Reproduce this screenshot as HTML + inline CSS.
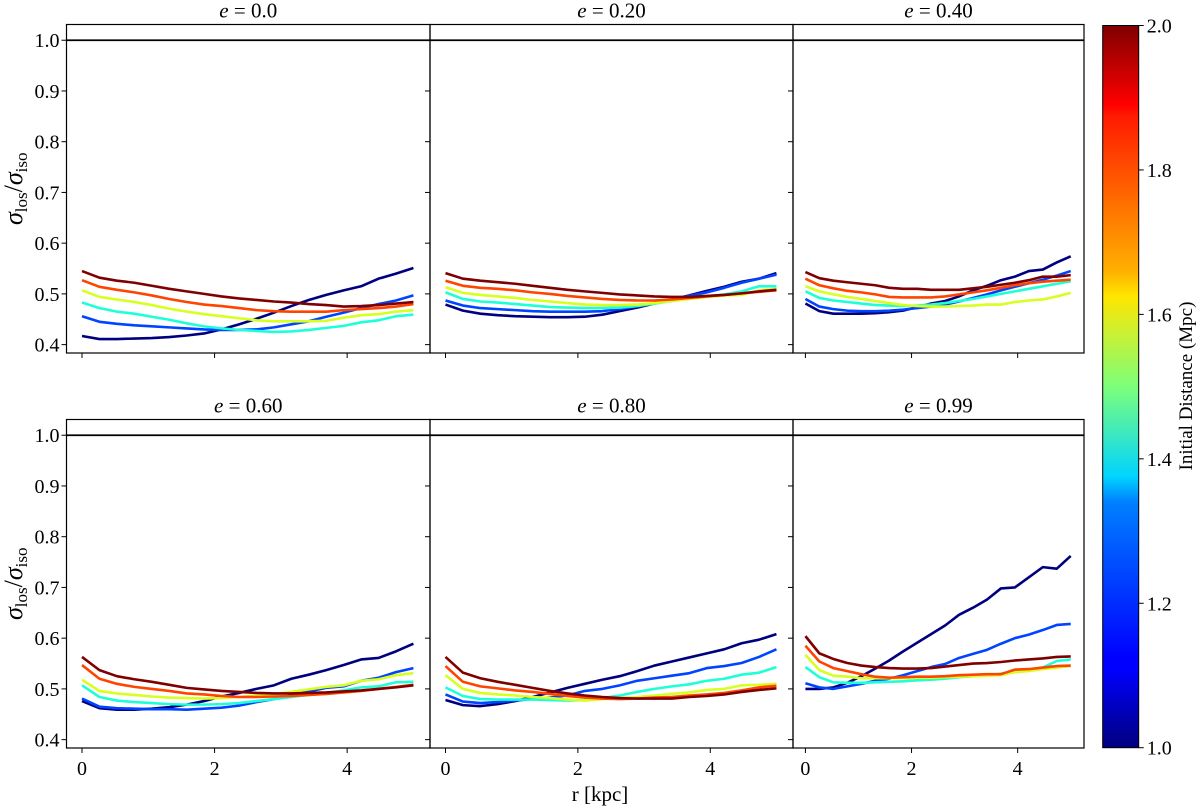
<!DOCTYPE html>
<html><head><meta charset="utf-8"><style>
html,body{margin:0;padding:0;background:#fff;}
svg{display:block;font-family:"Liberation Serif","DejaVu Serif",serif;}
</style></head><body>
<svg id="chart" width="1200" height="807" viewBox="0 0 1200 807" xmlns="http://www.w3.org/2000/svg">
<defs>
<linearGradient id="jet" x1="0" y1="1" x2="0" y2="0">
<stop offset="0" stop-color="#00007f"/><stop offset="0.11" stop-color="#0000ff"/><stop offset="0.125" stop-color="#0000ff"/>
<stop offset="0.34" stop-color="#0080ff"/><stop offset="0.375" stop-color="#00d4ff"/><stop offset="0.5" stop-color="#7dff7a"/>
<stop offset="0.625" stop-color="#ffe600"/><stop offset="0.66" stop-color="#ffb000"/><stop offset="0.875" stop-color="#ff1a00"/><stop offset="0.89" stop-color="#ff0000"/><stop offset="1" stop-color="#7f0000"/>
</linearGradient>
</defs>
</svg>
<script>
const titles = ["0.0","0.20","0.40","0.60","0.80","0.99"];
const seriesColors = ["#00007f","#0044ff","#1fffd7","#d7ff1f","#ff4400","#7f0000"];
const xTicks = [0,2,4];
const yTicks = [0.4,0.5,0.6,0.7,0.8,0.9,1.0];
const cbTicks = [1.0,1.2,1.4,1.6,1.8,2.0];
const N = 20;
const p0 = [
[.417,.411,.411,.412,.413,.415,.418,.422,.430,.440,.451,.463,.476,.488,.498,.507,.515,.530,.540,.551],
[.456,.445,.441,.438,.436,.434,.432,.430,.429,.429,.430,.434,.440,.446,.455,.463,.472,.480,.487,.497],
[.483,.472,.465,.461,.455,.449,.442,.436,.432,.429,.427,.425,.426,.429,.433,.437,.444,.448,.456,.459],
[.507,.494,.489,.484,.478,.471,.465,.460,.456,.452,.448,.446,.446,.446,.447,.453,.458,.460,.465,.468],
[.527,.514,.508,.503,.497,.490,.484,.479,.476,.472,.468,.466,.465,.465,.465,.468,.470,.472,.475,.480],
[.545,.532,.526,.522,.516,.510,.505,.500,.495,.491,.488,.485,.483,.480,.478,.475,.476,.478,.481,.484]];
const p1 = [
[.479,.467,.461,.458,.456,.455,.454,.454,.455,.459,.466,.473,.481,.489,.497,.506,.514,.524,.530,.541],
[.487,.477,.472,.470,.468,.466,.465,.465,.465,.466,.470,.476,.482,.489,.496,.503,.512,.522,.530,.538],
[.503,.490,.485,.483,.480,.477,.474,.473,.472,.472,.473,.476,.481,.486,.491,.495,.499,.505,.515,.515],
[.513,.502,.498,.495,.492,.488,.485,.482,.479,.478,.478,.479,.482,.486,.490,.494,.497,.498,.507,.510],
[.526,.516,.512,.510,.507,.503,.500,.496,.493,.490,.488,.487,.487,.489,.492,.495,.498,.501,.504,.507],
[.541,.530,.526,.523,.520,.516,.512,.508,.505,.502,.499,.497,.495,.494,.494,.496,.498,.501,.505,.508]];
const p2 = [
[.481,.466,.461,.461,.461,.462,.464,.467,.474,.481,.486,.495,.507,.516,.527,.534,.545,.548,.562,.574],
[.490,.475,.470,.467,.466,.466,.467,.469,.472,.475,.479,.485,.492,.499,.507,.514,.521,.528,.536,.545],
[.505,.492,.487,.484,.481,.478,.477,.476,.477,.479,.482,.486,.490,.495,.500,.505,.510,.515,.520,.525],
[.515,.505,.499,.494,.490,.486,.482,.478,.476,.475,.475,.476,.477,.479,.479,.484,.487,.489,.495,.502],
[.530,.517,.511,.506,.503,.499,.494,.493,.493,.493,.495,.499,.503,.507,.512,.517,.521,.524,.526,.528],
[.543,.531,.526,.523,.520,.517,.512,.510,.510,.508,.508,.508,.511,.514,.518,.522,.527,.534,.534,.537]];
const p3 = [
[.476,.462,.459,.459,.461,.464,.469,.476,.485,.492,.500,.507,.520,.528,.537,.547,.558,.561,.574,.589],
[.481,.465,.462,.461,.460,.460,.459,.461,.463,.467,.474,.480,.487,.495,.502,.505,.516,.522,.533,.541],
[.507,.484,.477,.474,.472,.470,.469,.469,.470,.472,.476,.480,.484,.488,.492,.497,.503,.505,.513,.514],
[.518,.496,.491,.488,.485,.483,.482,.481,.482,.484,.487,.490,.494,.499,.504,.507,.516,.519,.527,.531],
[.547,.520,.510,.504,.500,.496,.491,.489,.486,.484,.484,.485,.486,.488,.490,.493,.496,.500,.504,.508],
[.563,.537,.525,.519,.514,.508,.502,.499,.496,.494,.492,.491,.491,.492,.493,.495,.497,.500,.503,.507]];
const p4 = [
[.478,.468,.466,.470,.476,.484,.493,.502,.510,.518,.525,.535,.546,.554,.562,.570,.578,.590,.597,.608],
[.489,.475,.472,.474,.477,.480,.483,.487,.496,.500,.507,.516,.521,.526,.531,.541,.545,.551,.563,.578],
[.503,.486,.480,.479,.479,.479,.478,.477,.478,.482,.487,.494,.500,.505,.509,.516,.520,.528,.532,.543],
[.527,.500,.492,.489,.487,.484,.482,.479,.477,.480,.482,.484,.487,.490,.493,.498,.500,.507,.508,.510],
[.545,.514,.505,.501,.497,.494,.490,.486,.483,.481,.480,.481,.483,.484,.487,.489,.492,.497,.503,.506],
[.563,.532,.521,.514,.508,.502,.496,.491,.487,.484,.482,.481,.481,.481,.484,.486,.489,.494,.498,.501]];
const p5 = [
[.500,.500,.503,.512,.525,.540,.556,.574,.591,.608,.625,.646,.660,.676,.698,.700,.720,.740,.737,.762],
[.511,.503,.500,.505,.510,.516,.520,.527,.535,.543,.549,.561,.569,.577,.589,.600,.607,.616,.626,.628],
[.543,.523,.513,.512,.512,.513,.514,.515,.517,.518,.520,.523,.525,.527,.530,.535,.538,.542,.555,.558],
[.567,.537,.526,.524,.521,.521,.521,.521,.522,.522,.523,.524,.525,.526,.527,.533,.535,.539,.542,.545],
[.585,.554,.541,.535,.529,.524,.522,.523,.524,.524,.525,.527,.528,.529,.529,.538,.539,.542,.545,.546],
[.604,.570,.559,.551,.546,.543,.541,.540,.540,.541,.544,.547,.550,.551,.553,.556,.558,.560,.563,.564]];
const panelData = [p0,p1,p2,p3,p4,p5];

const svg = document.getElementById('chart');
const NS = 'http://www.w3.org/2000/svg';
function mk(tag, attrs, parent){const e=document.createElementNS(NS,tag);for(const k in attrs)e.setAttribute(k,attrs[k]);(parent||svg).appendChild(e);return e;}

const cols = [[66.5,430],[430,793],[793,1084]];
const rows = [[24.5,353],[419.5,748]];
const XMIN=-0.234, XMAX=5.25, YMIN=0.3835, YMAX=1.031;

for(let p=0;p<6;p++){
  const c=cols[p%3], r=rows[Math.floor(p/3)];
  const xs=v=>c[0]+(v-XMIN)/(XMAX-XMIN)*(c[1]-c[0]);
  const ys=v=>r[1]-(v-YMIN)/(YMAX-YMIN)*(r[1]-r[0]);
  const g=mk('g',{});
  
  
  const clipId='clip'+p;
  const cp=mk('clipPath',{id:clipId},g); mk('rect',{x:c[0],y:r[0],width:c[1]-c[0],height:r[1]-r[0]},cp);
  const lg=mk('g',{'clip-path':'url(#'+clipId+')'},g);
  panelData[p].forEach((s,si)=>{
    let d='';
    s.forEach((v,i)=>{const xv=i*5/(N-1);d+=(i?'L':'M')+xs(xv).toFixed(2)+','+ys(v).toFixed(2);});
    const path=mk('path',{d:d,fill:'none',stroke:seriesColors[si],'stroke-width':2.6,'stroke-linejoin':'round'},lg);
    
    
  });
  const ref=mk('line',{x1:c[0],x2:c[1],y1:ys(1.0),y2:ys(1.0),stroke:'#000','stroke-width':1.8},g);
  
  
  const fr=mk('rect',{x:c[0],y:r[0],width:c[1]-c[0],height:r[1]-r[0],fill:'none',stroke:'#000','stroke-width':1.2},g);
  
  
  xTicks.forEach(t=>{
    mk('line',{x1:xs(t),x2:xs(t),y1:r[1],y2:r[1]+5,stroke:'#000','stroke-width':1},g);
    if(p>=3){const tx=mk('text',{x:xs(t),y:r[1]+27,'text-anchor':'middle','font-size':20},g);tx.textContent=t;
      
      }
  });
  yTicks.forEach(t=>{
    mk('line',{x1:c[0],x2:c[0]-5,y1:ys(t),y2:ys(t),stroke:'#000','stroke-width':1},g);
    if(p%3===0){const ty=mk('text',{x:c[0]-7,y:ys(t)+7,'text-anchor':'end','font-size':20},g);ty.textContent=t.toFixed(1);
      
      }
  });
  const tt=mk('text',{x:(c[0]+c[1])/2,y:r[0]-7,'text-anchor':'middle','font-size':21},g);
  
  
  const te=mk('tspan',{'font-style':'italic'},tt);te.textContent='e';
  const tv=mk('tspan',{},tt);tv.textContent=' = '+titles[p];
  if(p%3===0){
    const cy=(r[0]+r[1])/2;
    const yl=mk('text',{x:0,y:0,transform:'translate(22,'+cy+') rotate(-90)','text-anchor':'middle','font-size':26},g);
    
    
    const a=mk('tspan',{'font-style':'italic'},yl);a.textContent='σ';
    const b=mk('tspan',{'font-size':17,dy:5},yl);b.textContent='los';
    const s=mk('tspan',{dy:-5},yl);s.textContent='/';
    const a2=mk('tspan',{'font-style':'italic'},yl);a2.textContent='σ';
    const b2=mk('tspan',{'font-size':17,dy:5},yl);b2.textContent='iso';
  }
}
const xl=mk('text',{x:600,y:801,'text-anchor':'middle','font-size':21});
xl.textContent='r [kpc]';



// colorbar
const cbX=1102.7,cbW=36,cbTop=25.5,cbBot=747.7;
const cb=mk('rect',{x:cbX,y:cbTop,width:cbW,height:cbBot-cbTop,fill:'url(#jet)',stroke:'#000','stroke-width':1});


const cys=v=>cbBot-(v-1.0)/(2.0-1.0)*(cbBot-cbTop);
cbTicks.forEach(t=>{
  mk('line',{x1:cbX+cbW,x2:cbX+cbW+5,y1:cys(t),y2:cys(t),stroke:'#000','stroke-width':1});
  const tl=mk('text',{x:cbX+cbW+8,y:cys(t)+7,'font-size':20});
  tl.textContent=t.toFixed(1);
  
  
});
const cl=mk('text',{x:0,y:0,transform:'translate(1192,386) rotate(-90)','text-anchor':'middle','font-size':19});
cl.textContent='Initial Distance (Mpc)';


</script>
</body></html>
